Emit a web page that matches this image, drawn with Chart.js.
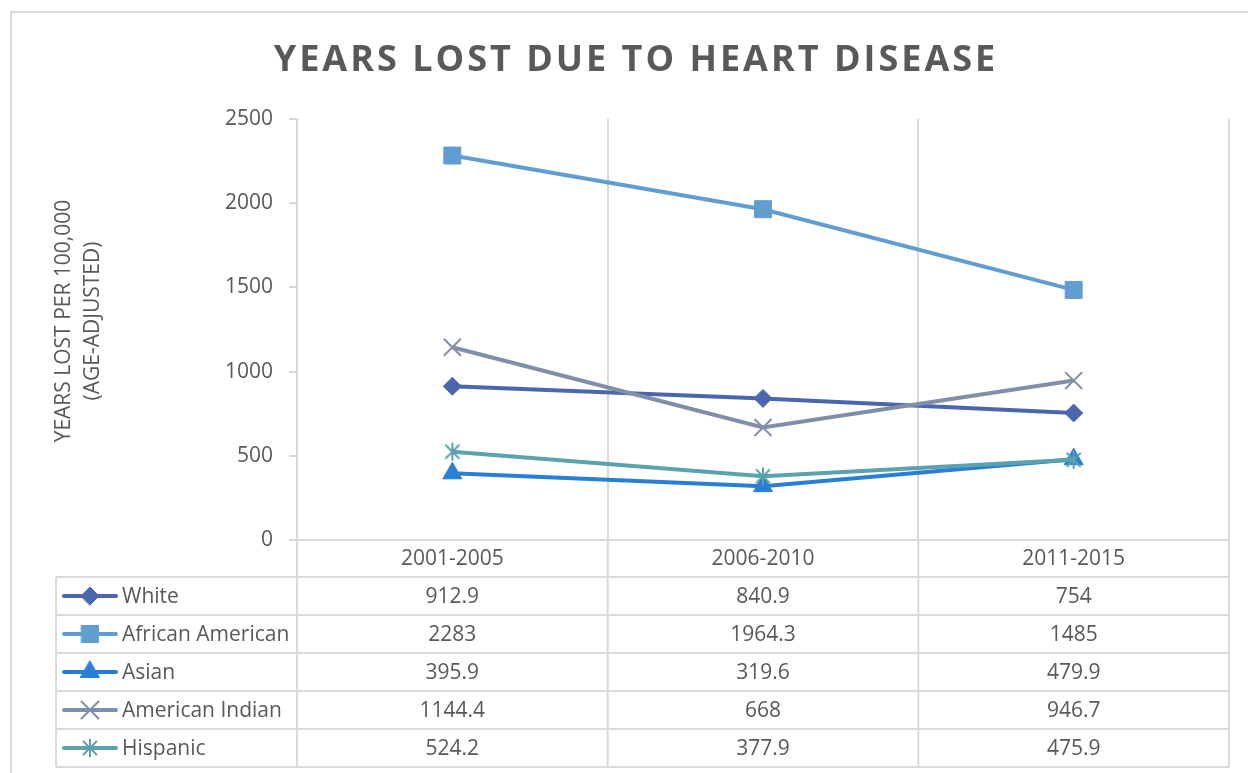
<!DOCTYPE html>
<html>
<head>
<meta charset="utf-8">
<script src="https://cdn.jsdelivr.net/npm/chart.js@4.4.1/dist/chart.umd.min.js"></script>
<style>
  html, body { margin: 0; padding: 0; background: #fff; overflow: hidden; }
  #chart { display: block; }
</style>
</head>
<body>
<canvas id="chart" width="1248" height="773"></canvas>
<script>
// Data
const categories = ['2001-2005', '2006-2010', '2011-2015'];
const seriesNames = ['White', 'African American', 'Asian', 'American Indian', 'Hispanic'];
const white = [912.9, 840.9, 754];
const africanAmerican = [2283, 1964.3, 1485];
const asian = [395.9, 319.6, 479.9];
const americanIndian = [1144.4, 668, 946.7];
const hispanic = [524.2, 377.9, 475.9];
const yMin = 0, yMax = 2500, yStep = 500;

const chartTitle = 'YEARS LOST DUE TO HEART DISEASE';
const yTitle = ['YEARS LOST PER 100,000', '(AGE-ADJUSTED)'];

const TEXT = '#595959';
const GRID = '#d9d9d9';
const FONT = "'Open Sans', 'Liberation Sans', sans-serif";

// asterisk marker (X with a vertical bar), like the office one
function asteriskMarker(color) {
  const c = document.createElement('canvas');
  c.width = 20; c.height = 20;
  const g = c.getContext('2d');
  g.strokeStyle = color;
  g.lineWidth = 2;
  g.beginPath();
  g.moveTo(3, 3); g.lineTo(17, 17);
  g.moveTo(17, 3); g.lineTo(3, 17);
  g.moveTo(10, 1); g.lineTo(10, 19);
  g.stroke();
  return c;
}

const styles = [
  { color: '#4A66AC', point: 'rectRot', radius: 9, bw: 1 },
  { color: '#629DD1', point: 'rect', radius: 12, bw: 1 },
  { color: '#297FD5', point: 'triangle', radius: 11, bw: 1 },
  { color: '#7F8FA9', point: 'crossRot', radius: 12, bw: 2 },
  { color: '#5AA2AE', point: asteriskMarker('#5AA2AE'), radius: 10, bw: 2 }
];
const seriesData = [white, africanAmerican, asian, americanIndian, hispanic];

const datasets = seriesNames.map((name, i) => ({
  label: name,
  data: seriesData[i],
  borderColor: styles[i].color,
  backgroundColor: styles[i].color,
  pointBackgroundColor: styles[i].color,
  pointBorderColor: styles[i].color,
  pointStyle: styles[i].point,
  pointRadius: styles[i].radius,
  pointBorderWidth: styles[i].bw,
  borderWidth: 4,
  tension: 0,
  order: seriesNames.length - 1 - i   // later series on top, like Excel
}));

// ==================== Frame, title, axis title ====================
const framePlugin = {
  id: 'frame',
  beforeDraw(chart) {
    const ctx = chart.ctx;
    ctx.save();
    ctx.strokeStyle = GRID;
    ctx.lineWidth = 2;
    ctx.strokeRect(11, 12, 1400, 1000);
    ctx.fillStyle = TEXT;
    ctx.font = `bold 36px ${FONT}`;
    ctx.letterSpacing = '3px';
    ctx.textAlign = 'center';
    ctx.textBaseline = 'middle';
    ctx.fillText(chartTitle, 636, 61);

    // rotated y axis title
    ctx.letterSpacing = '0px';
    ctx.font = `21px ${FONT}`;
    ctx.translate(64, 321);
    ctx.rotate(-Math.PI / 2);
    yTitle.forEach((line, i) => ctx.fillText(line, 0, i * 29));
    ctx.restore();
  }
};

// ==================== Data table under the plot ====================
const tablePlugin = {
  id: 'dataTable',
  afterDraw(chart) {
    const { ctx, chartArea } = chart;
    const x = chart.scales.x;
    const half = (x.getPixelForValue(1) - x.getPixelForValue(0)) / 2;
    const left = 56;
    const right = chartArea.right;
    const headTop = chartArea.bottom;
    const top = 577;
    const rowH = 38;
    const bottom = top + rowH * seriesNames.length;

    ctx.save();
    ctx.strokeStyle = GRID;
    ctx.lineWidth = 2;
    ctx.beginPath();
    // horizontal rules
    for (let r = 0; r <= seriesNames.length; r++) {
      const y = top + r * rowH;
      ctx.moveTo(left, y);
      ctx.lineTo(right, y);
    }
    ctx.moveTo(left, top);
    ctx.lineTo(left, bottom);
    // column rules continue the category gridlines
    for (let i = 0; i <= categories.length; i++) {
      const gx = i < categories.length ? x.getPixelForValue(i) - half : x.getPixelForValue(i - 1) + half;
      ctx.moveTo(gx, headTop);
      ctx.lineTo(gx, bottom);
    }
    ctx.stroke();

    ctx.fillStyle = TEXT;
    ctx.font = `21px ${FONT}`;
    ctx.textBaseline = 'middle';
    ctx.textAlign = 'center';
    categories.forEach((c, i) => {
      ctx.fillText(c, x.getPixelForValue(i), (headTop + top) / 2 + 1);
    });

    seriesNames.forEach((name, r) => {
      const cy = top + r * rowH + rowH / 2;
      const st = styles[r];
      // legend key
      ctx.strokeStyle = st.color;
      ctx.lineWidth = 4;
      ctx.lineCap = 'round';
      ctx.beginPath();
      ctx.moveTo(64, cy);
      ctx.lineTo(116, cy);
      ctx.stroke();
      ctx.fillStyle = st.color;
      ctx.lineWidth = st.bw;
      Chart.helpers.drawPoint(ctx, {
        pointStyle: st.point, radius: st.radius, rotation: 0, borderWidth: st.bw
      }, 90, cy);

      ctx.fillStyle = TEXT;
      ctx.textAlign = 'left';
      ctx.fillText(name, 122, cy + 1);
      ctx.textAlign = 'center';
      seriesData[r].forEach((v, i) => {
        ctx.fillText(String(v), x.getPixelForValue(i), cy + 1);
      });
    });
    ctx.restore();
  }
};

new Chart(document.getElementById('chart'), {
  type: 'line',
  data: { labels: categories, datasets: datasets },
  options: {
    responsive: false,
    devicePixelRatio: 1,
    animation: false,
    layout: { padding: { top: 119, right: 19, bottom: 0, left: 0 } },
    plugins: {
      legend: { display: false },
      title: { display: false },
      tooltip: { enabled: false }
    },
    scales: {
      x: {
        offset: true,
        grid: { offset: true, color: GRID, lineWidth: 2, drawTicks: false },
        border: { color: GRID, width: 2 },
        ticks: { display: false },
        afterFit: (scale) => { scale.height = 233; }
      },
      y: {
        min: yMin,
        max: yMax,
        ticks: {
          stepSize: yStep,
          padding: 16,
          color: TEXT,
          font: { family: FONT, size: 21 },
          callback: (v) => String(v)
        },
        grid: { drawOnChartArea: false, color: GRID, lineWidth: 2, tickLength: 8 },
        border: { color: GRID, width: 2 },
        afterFit: (scale) => { scale.width = 297; }
      }
    }
  },
  plugins: [framePlugin, tablePlugin]
});
</script>
</body>
</html>
